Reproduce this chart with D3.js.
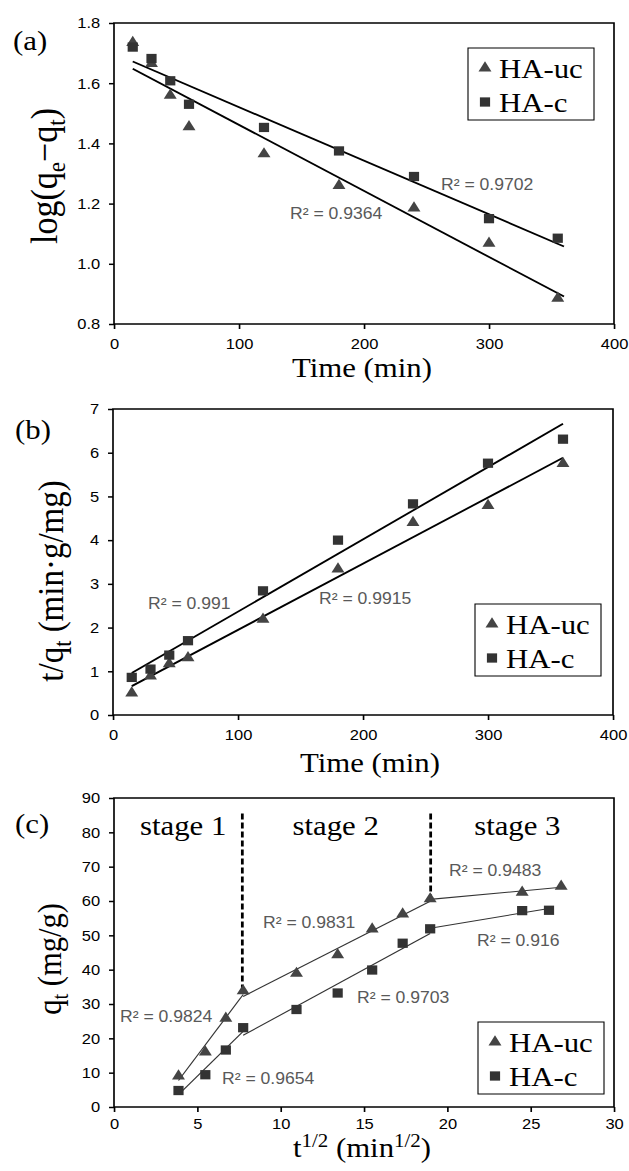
<!DOCTYPE html>
<meta charset="utf-8">
<title>Adsorption kinetics of HA-uc and HA-c</title>
<script src="https://d3js.org/d3.v7.min.js"></script>
<style>
  body { margin: 0; background: #fff; }
</style>
<body>
<div id="viz"></div>
<script>
  // ---- data ----
  // (a) pseudo-first-order
  const timeA = [15, 30, 45, 60, 120, 180, 240, 300, 355];
  const logUc = [1.735, 1.665, 1.56, 1.455, 1.365, 1.26, 1.185, 1.068, 0.885];
  const logC = [1.72, 1.682, 1.608, 1.53, 1.453, 1.375, 1.29, 1.15, 1.085];

  // (b) pseudo-second-order
  const timeB = [15, 30, 45, 60, 120, 180, 240, 300, 360];
  const tqUc = [0.5, 0.89, 1.17, 1.31, 2.19, 3.34, 4.40, 4.79, 5.75];
  const tqC = [0.86, 1.05, 1.37, 1.70, 2.84, 4.0, 4.83, 5.76, 6.31];

  // (c) intraparticle diffusion
  const sqrtTUc = [3.87, 5.48, 6.71, 7.75, 10.95, 13.42, 15.49, 17.32, 18.97, 24.49, 26.83];
  const sqrtTC = [3.87, 5.48, 6.71, 7.75, 10.95, 13.42, 15.49, 17.32, 18.97, 24.49, 26.1];
  const qtUc = [9, 16, 25.8, 33.8, 38.9, 44.3, 51.8, 56.2, 60.6, 62.5, 64.3];
  const qtC = [4.8, 9.4, 16.6, 23.1, 28.4, 33.2, 39.9, 47.7, 51.9, 57.2, 57.3];
  const stageRanges = [[0, 3], [3, 8], [8, 10]];
  const stageBreaks = [7.7, 19.0];
  const stageNames = ["stage 1", "stage 2", "stage 3"];

  const seriesNames = ["HA-uc", "HA-c"];
  const r2A = ["R² = 0.9364", "R² = 0.9702"];
  const r2B = ["R² = 0.9915", "R² = 0.991"];
  const r2C = [["R² = 0.9824", "R² = 0.9831", "R² = 0.9483"],
               ["R² = 0.9654", "R² = 0.9703", "R² = 0.916"]];

  const ticksTime = [0, 100, 200, 300, 400];
  const ticksA = [0.8, 1.0, 1.2, 1.4, 1.6, 1.8];
  const ticksB = [0, 1, 2, 3, 4, 5, 6, 7];
  const ticksCx = [0, 5, 10, 15, 20, 25, 30];
  const ticksCy = [0, 10, 20, 30, 40, 50, 60, 70, 80, 90];

  // ---- layout ----
  const W = 629, H = 1171;
  const SX = 1.1; // the original figure is stretched horizontally
  const ix = v => v / SX;
  const serif = "'Liberation Serif', 'Times New Roman', Times, serif";
  const sans = "'Liberation Sans', Arial, Helvetica, sans-serif";

  const svg = d3.select("#viz").append("svg")
    .attr("width", W).attr("height", H)
    .attr("viewBox", [0, 0, W, H]);
  const root = svg.append("g").attr("transform", `scale(${SX},1)`);

  const tri = d3.symbol().type(d3.symbolTriangle).size(60)();
  const sq = d3.symbol().type(d3.symbolSquare).size(86)();
  const markerPath = [tri, sq];
  const markerFill = ["#444", "#333"];

  function fit(xs, ys) {
    const mx = d3.mean(xs), my = d3.mean(ys);
    const b = d3.sum(xs, (v, i) => (v - mx) * (ys[i] - my)) / d3.sum(xs, v => (v - mx) ** 2);
    return v => my + b * (v - mx);
  }

  function panel(cfg) {
    const g = root.append("g");
    const x = d3.scaleLinear().domain(cfg.xDomain).range([ix(cfg.left), ix(cfg.right)]);
    const y = d3.scaleLinear().domain(cfg.yDomain).range([cfg.bottom, cfg.top]);

    const ax = g.append("g").attr("transform", `translate(0,${cfg.bottom})`)
      .call(d3.axisBottom(x).tickValues(cfg.xTicks).tickSize(5).tickPadding(cfg.xPad)
        .tickFormat(d3.format("d")));
    const ay = g.append("g").attr("transform", `translate(${ix(cfg.left)},0)`)
      .call(d3.axisLeft(y).tickValues(cfg.yTicks).tickSize(ix(5)).tickPadding(8)
        .tickFormat(cfg.yFormat || d3.format("d")));
    [ax, ay].forEach(a => {
      a.select(".domain").remove();
      a.selectAll("line").attr("stroke", "#000").attr("stroke-width", 1.5);
      a.selectAll("text").attr("font-family", sans).attr("font-size", 15).attr("fill", "#000");
    });

    g.append("rect")
      .attr("x", ix(cfg.left)).attr("y", cfg.top)
      .attr("width", ix(cfg.right - cfg.left)).attr("height", cfg.bottom - cfg.top)
      .attr("fill", "none").attr("stroke", "#000").attr("stroke-width", 1.5);

    // panel letter
    g.append("text").attr("x", ix(cfg.letterX)).attr("y", cfg.letterY)
      .attr("font-family", serif).attr("font-size", 28).text(cfg.letter);

    // axis titles
    const xt = g.append("text").attr("x", ix(cfg.xTitleX)).attr("y", cfg.xTitleY)
      .attr("text-anchor", "middle").attr("font-family", serif).attr("font-size", 28);
    cfg.xTitle(xt, 28);
    const yt = g.append("text")
      .attr("transform", `translate(${ix(cfg.yTitleX)},${cfg.yTitleY}) rotate(-90)`)
      .attr("text-anchor", "middle").attr("font-family", serif).attr("font-size", cfg.yTitleSize);
    cfg.yTitle(yt, cfg.yTitleSize);

    // legend
    const lg = g.append("g");
    lg.append("rect")
      .attr("x", ix(cfg.legend.x)).attr("y", cfg.legend.y)
      .attr("width", ix(126)).attr("height", 72)
      .attr("fill", "#fff").attr("stroke", "#000").attr("stroke-width", 1);
    seriesNames.forEach((name, i) => {
      const cy = cfg.legend.y + 20 + i * 34;
      lg.append("path").attr("d", markerPath[i]).attr("fill", markerFill[i])
        .attr("transform", `translate(${ix(cfg.legend.x + 17)},${cy})`);
      lg.append("text").attr("x", ix(cfg.legend.x + 31)).attr("y", cy + 10)
        .attr("font-family", serif).attr("font-size", 28).text(name);
    });

    return {g, x, y};
  }

  // text with sub/superscript pieces; fs = base font size
  function addTitleParts(sel, parts, fs) {
    let shift = 0;
    parts.forEach(([t, kind]) => {
      const ts = sel.append("tspan").text(t);
      const target = kind === "sub" ? fs * 0.22 : kind === "sup" ? -fs * 0.36 : 0;
      if (target !== shift) ts.attr("dy", target - shift);
      if (kind) ts.attr("font-size", fs * 0.68);
      shift = target;
    });
  }

  function r2Label(g, txt, left, cy) {
    g.append("text").attr("x", ix(left)).attr("y", cy).attr("dy", "0.35em")
      .attr("font-family", sans).attr("font-size", 16).attr("fill", "#595959").text(txt);
  }

  function drawSeries(p, xs, ys, i) {
    p.g.append("g").selectAll("path").data(xs).join("path")
      .attr("d", markerPath[i]).attr("fill", markerFill[i])
      .attr("transform", (d, k) => `translate(${p.x(d)},${p.y(ys[k])})`);
  }

  // ---- (a) ----
  const pa = panel({
    left: 114, right: 614, top: 23, bottom: 324,
    xDomain: [0, 400], yDomain: [0.8, 1.8], xTicks: ticksTime, yTicks: ticksA, xPad: 9,
    yFormat: d3.format(".1f"),
    letter: "(a)", letterX: 13, letterY: 50,
    xTitleX: 362, xTitleY: 377, xTitle: s => s.text("Time (min)"),
    yTitleX: 57, yTitleY: 176, yTitleSize: 34,
    yTitle: (s, fs) => addTitleParts(s, [["log(q"], ["e", "sub"], ["−q"], ["t", "sub"], [")"]], fs),
    legend: {x: 468, y: 48}
  });
  [[timeA, logUc], [timeA, logC]].forEach(([xs, ys]) => {
    const f = fit(xs, ys);
    pa.g.append("line").attr("x1", pa.x(15)).attr("x2", pa.x(360))
      .attr("y1", pa.y(f(15))).attr("y2", pa.y(f(360)))
      .attr("stroke", "#000").attr("stroke-width", 1.8);
  });
  drawSeries(pa, timeA, logUc, 0);
  drawSeries(pa, timeA, logC, 1);
  r2Label(pa.g, r2A[0], 290, 213);
  r2Label(pa.g, r2A[1], 441, 184);

  // ---- (b) ----
  const pb = panel({
    left: 113, right: 613, top: 409, bottom: 715,
    xDomain: [0, 400], yDomain: [0, 7], xTicks: ticksTime, yTicks: ticksB, xPad: 9,
    letter: "(b)", letterX: 15, letterY: 439,
    xTitleX: 370, xTitleY: 772, xTitle: s => s.text("Time (min)"),
    yTitleX: 63, yTitleY: 581, yTitleSize: 33,
    yTitle: (s, fs) => addTitleParts(s, [["t/q"], ["t", "sub"], [" (min·g/mg)"]], fs),
    legend: {x: 475, y: 604}
  });
  [[timeB, tqUc], [timeB, tqC]].forEach(([xs, ys]) => {
    const f = fit(xs, ys);
    pb.g.append("line").attr("x1", pb.x(15)).attr("x2", pb.x(360))
      .attr("y1", pb.y(f(15))).attr("y2", pb.y(f(360)))
      .attr("stroke", "#000").attr("stroke-width", 1.8);
  });
  drawSeries(pb, timeB, tqUc, 0);
  drawSeries(pb, timeB, tqC, 1);
  r2Label(pb.g, r2B[0], 319, 598);
  r2Label(pb.g, r2B[1], 148, 603);

  // ---- (c) ----
  const pc = panel({
    left: 114, right: 614, top: 798, bottom: 1107,
    xDomain: [0, 30], yDomain: [0, 90], xTicks: ticksCx, yTicks: ticksCy, xPad: 6,
    letter: "(c)", letterX: 15, letterY: 833,
    xTitleX: 362, xTitleY: 1157,
    xTitle: (s, fs) => addTitleParts(s, [["t"], ["1/2", "sup"], [" (min"], ["1/2", "sup"], [")"]], fs),
    yTitleX: 61, yTitleY: 959, yTitleSize: 30.5,
    yTitle: (s, fs) => addTitleParts(s, [["q"], ["t", "sub"], [" (mg/g)"]], fs),
    legend: {x: 478, y: 1022}
  });
  stageBreaks.forEach(b => {
    pc.g.append("line").attr("x1", pc.x(b)).attr("x2", pc.x(b))
      .attr("y1", pc.y(85.5)).attr("y2", pc.y(b < 10 ? 34 : 61))
      .attr("stroke", "#000").attr("stroke-width", 2.5).attr("stroke-dasharray", "6,3");
  });
  const stageX = [4.15, 13.3, 24.2];
  stageNames.forEach((s, i) => {
    pc.g.append("text").attr("x", pc.x(stageX[i])).attr("y", 835)
      .attr("text-anchor", "middle").attr("font-family", serif).attr("font-size", 28).text(s);
  });
  [[sqrtTUc, qtUc], [sqrtTC, qtC]].forEach(([xsAll, ys]) => {
    stageRanges.forEach(([a, b]) => {
      const xs = xsAll.slice(a, b + 1), yy = ys.slice(a, b + 1);
      const f = fit(xs, yy);
      pc.g.append("line")
        .attr("x1", pc.x(xs[0])).attr("x2", pc.x(xs[xs.length - 1]))
        .attr("y1", pc.y(f(xs[0]))).attr("y2", pc.y(f(xs[xs.length - 1])))
        .attr("stroke", "#333").attr("stroke-width", 1.1);
    });
  });
  drawSeries(pc, sqrtTUc, qtUc, 0);
  drawSeries(pc, sqrtTC, qtC, 1);
  const r2CPos = [[[120, 1016], [263, 922], [449, 870]],
                  [[222, 1078], [357, 997], [477, 940]]];
  r2C.forEach((row, i) => row.forEach((t, k) => r2Label(pc.g, t, r2CPos[i][k][0], r2CPos[i][k][1])));
</script>
</body>
